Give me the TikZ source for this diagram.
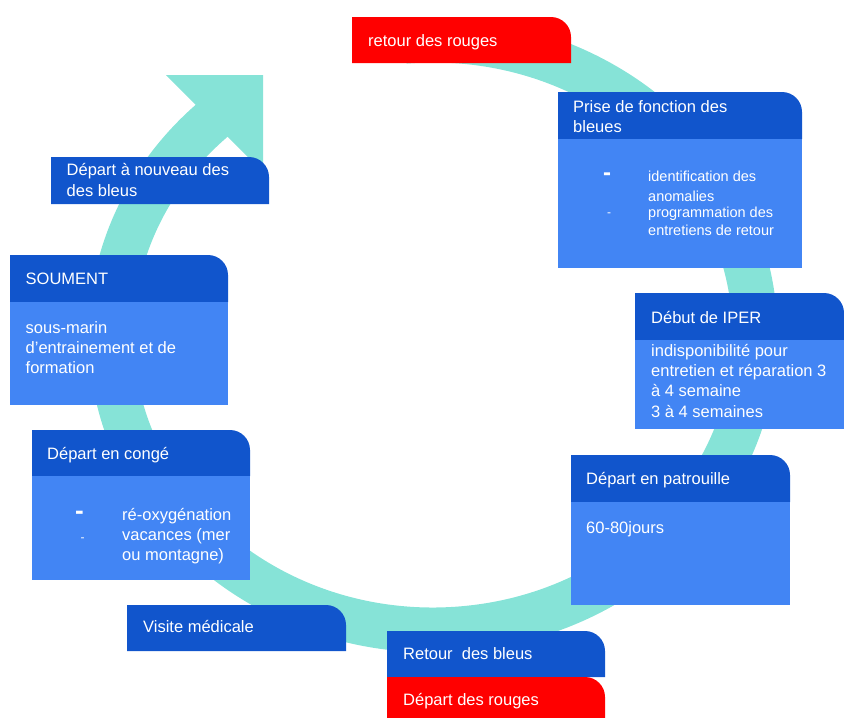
\documentclass[tikz,border=0pt]{standalone}
\usepackage{fontspec}
\setmainfont{Liberation Sans}
\definecolor{ringc}{RGB}{134,227,215}
\definecolor{hdblue}{RGB}{17,85,204}
\definecolor{bdblue}{RGB}{66,133,244}
\definecolor{alertred}{RGB}{255,0,0}
\begin{document}
\begin{tikzpicture}[x=1pt,y=-1pt,
  tab/.style n args={4}{insert path={(#1,#4) -- (#1,#2) -- ({#3-20},#2)
      arc[start angle=-90,end angle=0,radius=20] -- (#3,#4) -- cycle}},
  hdr/.style={fill=hdblue},
  bdy/.style={fill=bdblue},
  redtab/.style={fill=alertred},
  % multi-line texts are placed by the baseline of their last line
  txt/.style={text=white, inner sep=0pt, anchor=base west, align=left,
    font=\fontsize{16.5}{20.3}\selectfont},
  small/.style={txt, font=\fontsize{14.5}{20}\selectfont},
  bigdash/.style={txt, font=\fontsize{24}{24}\selectfont\bfseries},
  tinydash/.style={txt, font=\fontsize{12}{12}\selectfont},
]
\useasboundingbox (0,0) rectangle (844,718);

% circular arrow of the cycle
\draw[ringc, line width=45pt] (433,335) ++(265:322 and 295)
  arc[start angle=265, end angle=588, x radius=322, y radius=295];
\fill[ringc] (166,75) -- (263,75) -- (263,172) -- cycle;

% top: red returns
\fill[redtab, tab={352}{17}{571}{63}];
\node[txt] (rougestop) at (368,46) {retour des rouges};

% blue crew takes over
\fill[hdr, tab={558}{92}{802}{139}];
\fill[bdy] (558,139) rectangle (802,268);
\node[txt] (priseh) at (573,132.3) {Prise de fonction des\\bleues};
\node[bigdash] (prised1) at (603,180) {-};
\node[small] (priseb1) at (648,201) {identification des\\anomalies};
\node[tinydash] (prised2) at (607,216.5) {-};
\node[small, font=\fontsize{14.5}{18.5}\selectfont] (priseb2) at (648,235.5) {programmation des\\entretiens de retour};

% maintenance period
\fill[hdr, tab={635}{293}{844}{340}];
\fill[bdy] (635,340) rectangle (844,429);
\node[txt] (iperh) at (651,323) {Début de IPER};
\node[txt] (iperb) at (651,417) {indisponibilité pour\\entretien et réparation 3\\à 4 semaine\\3 à 4 semaines};

% patrol
\fill[hdr, tab={571}{455}{790}{502}];
\fill[bdy] (571,502) rectangle (790,605);
\node[txt] (patrh) at (586,484) {Départ en patrouille};
\node[txt] (patrb) at (586,533) {60-80jours};

% bottom: blues return, reds leave
\fill[hdr, tab={387}{631}{605}{677}];
\fill[redtab, tab={387}{677}{605}{718}];
\node[txt] (retourb) at (403,659) {Retour\ \ des bleus};
\node[txt] (departr) at (403,705.5) {Départ des rouges};

% medical check
\fill[hdr, tab={127}{605}{346}{651}];
\node[txt] (visite) at (143,632) {Visite médicale};

% leave
\fill[hdr, tab={32}{430}{250}{476}];
\fill[bdy] (32,476) rectangle (250,580);
\node[txt] (congeh) at (47,459) {Départ en congé};
\node[bigdash, font=\fontsize{26}{26}\selectfont\bfseries] (conged1) at (75,519.5) {-};
\node[tinydash] (conged2) at (80.5,541.5) {-};
\node[txt] (congeb) at (122,560.6) {ré-oxygénation\\vacances (mer\\ou montagne)};

% training submarine
\fill[hdr, tab={10}{255}{228}{302}];
\fill[bdy] (10,302) rectangle (228,405);
\node[txt] (soumh) at (25.5,284) {SOUMENT};
\node[txt] (soumb) at (25.5,373.6) {sous-marin\\d’entrainement et de\\formation};

% blues leave again
\fill[hdr, tab={51}{157}{269}{204}];
\node[txt, font=\fontsize{16.5}{21}\selectfont] (nouveau) at (66.5,196) {Départ à nouveau des\\des bleus};
\end{tikzpicture}
\end{document}
